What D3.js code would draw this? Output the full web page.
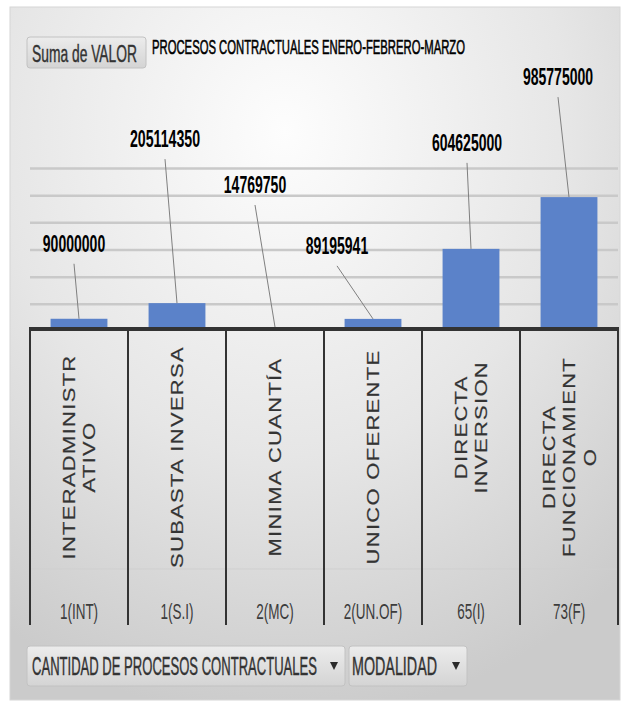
<!DOCTYPE html>
<meta charset="utf-8">
<style>
body { margin: 0; background: #fff; }
svg { display: block; }
text { font-family: "Liberation Sans", Arial, sans-serif; }
.grid line { stroke: #c9c9c9; stroke-width: 2.5; }
.grid path { display: none; }
.rot { white-space: pre; }
</style>
<svg id="chart" width="626" height="704"></svg>
<script src="https://cdn.jsdelivr.net/npm/d3@7/dist/d3.min.js"></script>
<script>

// data
var modalidades = ["INTERADMINISTRATIVO", "SUBASTA INVERSA", "MINIMA CUANTÍA",
                   "UNICO OFERENTE", "DIRECTA INVERSION", "DIRECTA FUNCIONAMIENTO"];
// how excel wrapped the rotated labels (the inversion cell carries leading blanks)
var modalidadLines = [
  ["INTERADMINISTR", "ATIVO"],
  ["SUBASTA INVERSA"],
  ["MINIMA CUANTÍA"],
  ["UNICO OFERENTE"],
  ["\u00a0\u00a0\u00a0\u00a0\u00a0\u00a0\u00a0\u00a0DIRECTA", "\u00a0\u00a0\u00a0\u00a0\u00a0\u00a0\u00a0\u00a0INVERSION"],
  ["DIRECTA", "FUNCIONAMIENT", "O"]
];
var cantidades = ["1(INT)", "1(S.I)", "2(MC)", "2(UN.OF)", "65(I)", "73(F)"];
var valores = [90000000, 205114350, 14769750, 89195941, 604625000, 985775000];
var yTicks = [200e6, 400e6, 600e6, 800e6, 1000e6, 1200e6];

// where the data labels were dragged to, relative to the top of each bar (px)
var labelShift = [[-5, -67], [-12, -156], [-20, -136], [-36, -65], [-4, -98], [-11, -112]];

var svg = d3.select("#chart");

var defs = svg.append("defs");
var bg = defs.append("radialGradient").attr("id", "bg")
    .attr("cx", "45%").attr("cy", "18%").attr("r", "85%");
bg.append("stop").attr("offset", "0").attr("stop-color", "#fdfdfd");
bg.append("stop").attr("offset", "0.55").attr("stop-color", "#e6e6e6");
bg.append("stop").attr("offset", "1").attr("stop-color", "#cbcbcb");

var btn = defs.append("linearGradient").attr("id", "btn")
    .attr("x1", 0).attr("y1", 0).attr("x2", 0).attr("y2", 1);
btn.append("stop").attr("offset", "0").attr("stop-color", "#ececec");
btn.append("stop").attr("offset", "1").attr("stop-color", "#d4d4d4");

svg.append("rect")
    .attr("x", 10).attr("y", 7).attr("width", 610).attr("height", 693)
    .attr("fill", "url(#bg)").attr("stroke", "#d6d6d6");

var x = d3.scaleBand()
    .domain(modalidades)
    .range([30, 618])
    .paddingInner(0.42)
    .paddingOuter(0.21);

var y = d3.scaleLinear()
    .domain([0, 1200e6])
    .range([331, 168]);

// stretched text helper: font size, vertical stretch and fitted width
function stretched(g, txt, tx, ty, size, sy, len, opts) {
  opts = opts || {};
  var t = g.append("text")
      .attr("transform", "translate(" + tx + "," + ty + ") scale(1," + sy + ")")
      .attr("font-size", size)
      .attr("font-weight", opts.weight || "normal")
      .attr("fill", opts.fill || "#1a1a1a")
      .attr("text-anchor", opts.anchor || "start")
      .text(txt);
  if (opts.stroke) t.attr("stroke", opts.fill).attr("stroke-width", opts.stroke);
  if (len) t.attr("textLength", len).attr("lengthAdjust", "spacingAndGlyphs");
  return t;
}

// buttons
function button(x0, y0, w, h) {
  svg.append("rect")
      .attr("x", x0).attr("y", y0).attr("width", w).attr("height", h)
      .attr("rx", 3).attr("fill", "url(#btn)").attr("stroke", "#c2c2c2");
}

button(27, 37, 119, 31);
stretched(svg, "Suma de VALOR", 32, 62, 14, 1.7, 105, {fill: "#333", stroke: 0.25});
stretched(svg, "PROCESOS CONTRACTUALES ENERO-FEBRERO-MARZO", 152, 54, 12, 1.65, 313, {fill: "#000", stroke: 0.35});

// gridlines
svg.append("g")
    .attr("class", "grid")
    .attr("transform", "translate(30,0)")
    .call(d3.axisRight(y).tickValues(yTicks).tickSize(588).tickFormat(""));

// bars
svg.selectAll(".bar")
  .data(valores)
  .enter().append("rect")
    .attr("class", "bar")
    .attr("x", function(d, i) { return x(modalidades[i]); })
    .attr("y", function(d) { return y(d); })
    .attr("width", x.bandwidth())
    .attr("height", function(d) { return y(0) - y(d); })
    .attr("fill", "#5b82c9");

// category area
var step = x.step();
var x0 = x.range()[0];

svg.append("line")
    .attr("x1", x0).attr("x2", x.range()[1])
    .attr("y1", 569).attr("y2", 569)
    .attr("stroke", "#cfcfcf").attr("stroke-width", 1);

svg.selectAll(".divider")
  .data(d3.range(modalidades.length + 1))
  .enter().append("line")
    .attr("x1", function(i) { return x0 + i * step; })
    .attr("x2", function(i) { return x0 + i * step; })
    .attr("y1", 328).attr("y2", 625)
    .attr("stroke", "#333").attr("stroke-width", 2);

svg.append("line")
    .attr("x1", x0 - 1).attr("x2", x.range()[1] + 1)
    .attr("y1", 329).attr("y2", 329)
    .attr("stroke", "#333").attr("stroke-width", 4);

// rotated modalidad labels
var lineGap = 20.5;
modalidadLines.forEach(function(lines, i) {
  var cx = x(modalidades[i]) + x.bandwidth() / 2;
  var n = lines.length;
  lines.forEach(function(ln, j) {
    var off = (j - (n - 1) / 2) * lineGap;
    svg.append("text")
        .attr("class", "rot")
        .attr("transform", "translate(" + (cx + off + 6) + ",457) rotate(-90) scale(1.33,1)")
        .attr("text-anchor", "middle")
        .attr("font-size", 16.5)
        .attr("letter-spacing", 1)
        .attr("fill", "#333")
        .attr("stroke", "#333")
        .attr("stroke-width", 0.2)
        .text(ln);
  });
});

// cantidad labels
cantidades.forEach(function(c, i) {
  var cx = x(modalidades[i]) + x.bandwidth() / 2;
  stretched(svg, c, cx, 619, 13.5, 1.7, null, {anchor: "middle", fill: "#3c3c3c"});
});

// data labels with leader lines
var fmt = d3.format("d");
valores.forEach(function(v, i) {
  var bx = x(modalidades[i]) + x.bandwidth() / 2;
  var by = y(v);
  var lx = bx + labelShift[i][0];
  var ly = by + labelShift[i][1];
  svg.append("line")
      .attr("x1", lx).attr("y1", ly + 12)
      .attr("x2", bx).attr("y2", Math.min(by, 327))
      .attr("stroke", "#7f7f7f").attr("stroke-width", 1);
  stretched(svg, fmt(v), lx, ly, 14, 1.7, String(fmt(v)).length * 7.8,
            {anchor: "middle", weight: "bold", fill: "#000"});
});

// field buttons at the bottom
button(27, 646, 318, 40);
button(349, 646, 118, 40);
stretched(svg, "CANTIDAD DE PROCESOS CONTRACTUALES", 32, 675, 14.5, 1.75, 285, {fill: "#333", stroke: 0.25});
stretched(svg, "MODALIDAD", 352, 675, 14.5, 1.75, 85, {fill: "#333", stroke: 0.25});
svg.selectAll(".arrow")
  .data([334, 456])
  .enter().append("path")
    .attr("d", function(d) { return "M" + (d - 4) + ",662L" + (d + 4) + ",662L" + d + ",670Z"; })
    .attr("fill", "#2a2a2a");

</script>
